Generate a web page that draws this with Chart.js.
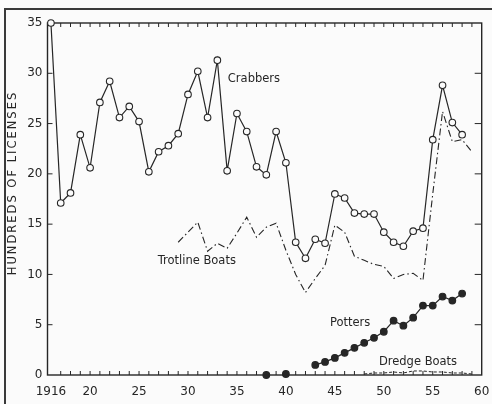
<!DOCTYPE html>
<html>
<head>
<meta charset="utf-8">
<script src="https://cdn.jsdelivr.net/npm/chart.js@4/dist/chart.umd.min.js"></script>
<style>
  html, body { margin: 0; padding: 0; background: #fbfbfb; }
  canvas { display: block; }
</style>
</head>
<body>
<canvas id="c" width="492" height="404"></canvas>
<script>
// ---- Data (hundreds of licenses) ----
const years = [1916,1917,1918,1919,1920,1921,1922,1923,1924,1925,1926,1927,1928,1929,1930,
  1931,1932,1933,1934,1935,1936,1937,1938,1939,1940,1941,1942,1943,1944,1945,
  1946,1947,1948,1949,1950,1951,1952,1953,1954,1955,1956,1957,1958,1959];

const crabbers = [35.0,17.1,18.1,23.9,20.6,27.1,29.2,25.6,26.7,25.2,20.2,22.2,22.8,24.0,27.9,
  30.2,25.6,31.3,20.3,26.0,24.2,20.7,19.9,24.2,21.1,13.2,11.6,13.5,13.1,18.0,
  17.6,16.1,16.0,16.0,14.2,13.2,12.8,14.3,14.6,23.4,28.8,25.1,23.9,null];

const trotlineBoats = [null,null,null,null,null,null,null,null,null,null,null,null,null,
  13.2,14.2,15.2,12.3,13.1,12.6,14.1,15.7,13.7,14.7,15.1,12.4,10.0,8.2,9.6,10.9,14.9,
  14.2,11.8,11.4,11.0,10.8,9.6,10.0,10.1,9.4,18.0,26.2,23.2,23.4,22.2];

const potters = [null,null,null,null,null,null,null,null,null,null,null,null,null,null,null,
  null,null,null,null,null,null,null,0.0,null,0.1,null,null,1.0,1.3,1.7,
  2.2,2.7,3.2,3.7,4.3,5.4,4.9,5.7,6.9,6.9,7.8,7.4,8.1,null];

const dredgeBoats = [null,null,null,null,null,null,null,null,null,null,null,null,null,null,null,
  null,null,null,null,null,null,null,null,null,null,null,null,null,null,null,
  null,null,0.1,0.2,0.2,0.3,0.2,0.4,0.4,0.3,0.3,0.2,0.2,0.1];

const xTickValues = [1916,1920,1925,1930,1935,1940,1945,1950,1955,1960];
const yTickValues = [0,5,10,15,20,25,30,35];

const seriesLabels = [
  { text: 'Crabbers',       x: 1934.07, y: 29.4 },
  { text: 'Trotline Boats', x: 1926.9,  y: 11.3 },
  { text: 'Potters',        x: 1944.5,  y: 5.2 },
  { text: 'Dredge Boats',   x: 1949.5,  y: 1.3 }
];
const yTitle = 'HUNDREDS OF LICENSES';

// ---- Styling ----
const ink = '#262626';
const FONT = '"DejaVu Sans", "Liberation Sans", sans-serif';
const pts = arr => years.map((yr, i) => ({ x: yr, y: arr[i] }));

const deco = {
  id: 'deco',
  beforeDraw(chart) {
    const c = chart.ctx;
    c.save();
    c.strokeStyle = '#3a3a3a';
    c.lineWidth = 2;
    c.beginPath();
    c.moveTo(4, 9); c.lineTo(492, 9);
    c.moveTo(5, 8); c.lineTo(5, 404);
    c.stroke();
    c.restore();
  },
  beforeDatasetsDraw(chart) {
    const c = chart.ctx;
    const { left, right, top, bottom } = chart.chartArea;
    const xs = chart.scales.x, ys = chart.scales.y;
    c.save();
    c.strokeStyle = ink;
    c.lineWidth = 1.4;
    c.strokeRect(left, top, right - left, bottom - top);
    c.lineWidth = 1;
    c.beginPath();
    for (const yr of years) {
      if (yr === 1916) continue;
      const px = xs.getPixelForValue(yr);
      c.moveTo(px, top); c.lineTo(px, top + 4);
      c.moveTo(px, bottom); c.lineTo(px, bottom - 4);
    }
    for (const v of yTickValues) {
      if (v === 0 || v === 35) continue;
      const py = ys.getPixelForValue(v);
      c.moveTo(left, py); c.lineTo(left + 5, py);
      c.moveTo(right, py); c.lineTo(right - 7, py);
    }
    c.stroke();
    c.restore();
  },
  afterDraw(chart) {
    const c = chart.ctx;
    const xs = chart.scales.x, ys = chart.scales.y;
    c.save();
    c.fillStyle = ink;
    c.font = '11.5px ' + FONT;
    c.textAlign = 'left';
    c.textBaseline = 'middle';
    for (const l of seriesLabels) {
      c.fillText(l.text, xs.getPixelForValue(l.x), ys.getPixelForValue(l.y));
    }
    c.restore();
    c.save();
    c.fillStyle = ink;
    c.font = '11.5px ' + FONT;
    c.letterSpacing = '2px';
    c.textAlign = 'center';
    c.textBaseline = 'middle';
    c.translate(13, 183);
    c.rotate(-Math.PI / 2);
    c.fillText(yTitle, 0, 0);
    c.restore();
  }
};

new Chart(document.getElementById('c'), {
  type: 'line',
  data: {
    datasets: [
      { label: 'Crabbers', data: pts(crabbers), borderColor: ink, borderWidth: 1.2,
        pointRadius: 3.3, pointBackgroundColor: '#fbfbfb', pointBorderColor: ink,
        pointBorderWidth: 1.1, clip: false, spanGaps: false, order: 0 },
      { label: 'Trotline Boats', data: pts(trotlineBoats), borderColor: ink, borderWidth: 1.1,
        borderDash: [7, 3, 1.5, 3], pointRadius: 0, clip: false, spanGaps: false, order: 2 },
      { label: 'Potters', data: pts(potters), borderColor: ink, borderWidth: 1.2,
        pointRadius: 3.3, pointBackgroundColor: ink, pointBorderColor: ink,
        clip: false, spanGaps: false, order: 1 },
      { label: 'Dredge Boats', data: pts(dredgeBoats), borderColor: ink, borderWidth: 1,
        borderDash: [3, 2], pointRadius: 0, clip: false, spanGaps: false, order: 3 }
    ]
  },
  options: {
    responsive: false,
    animation: false,
    layout: { padding: { top: 23, right: 10.3, bottom: 0, left: 0 } },
    plugins: { legend: { display: false }, tooltip: { enabled: false }, title: { display: false } },
    scales: {
      x: {
        type: 'linear', min: 1915.65, max: 1960,
        grid: { display: false, drawTicks: false },
        border: { display: false },
        afterBuildTicks: s => { s.ticks = xTickValues.map(v => ({ value: v })); },
        afterFit: s => { s.height = 29; s.paddingLeft = 0; s.paddingRight = 0; },
        ticks: {
          autoSkip: false, maxRotation: 0, minRotation: 0, padding: 10, color: ink,
          font: { family: FONT, size: 12 },
          callback: v => (v === 1916 ? '1916' : String(v % 100))
        }
      },
      y: {
        min: 0, max: 35,
        grid: { display: false, drawTicks: false },
        border: { display: false },
        afterBuildTicks: s => { s.ticks = yTickValues.map(v => ({ value: v })); },
        afterFit: s => { s.width = 47.5; s.paddingTop = 0; s.paddingBottom = 0; },
        ticks: { padding: 5, color: ink, font: { family: FONT, size: 12 } }
      }
    }
  },
  plugins: [deco]
});
</script>
</body>
</html>
